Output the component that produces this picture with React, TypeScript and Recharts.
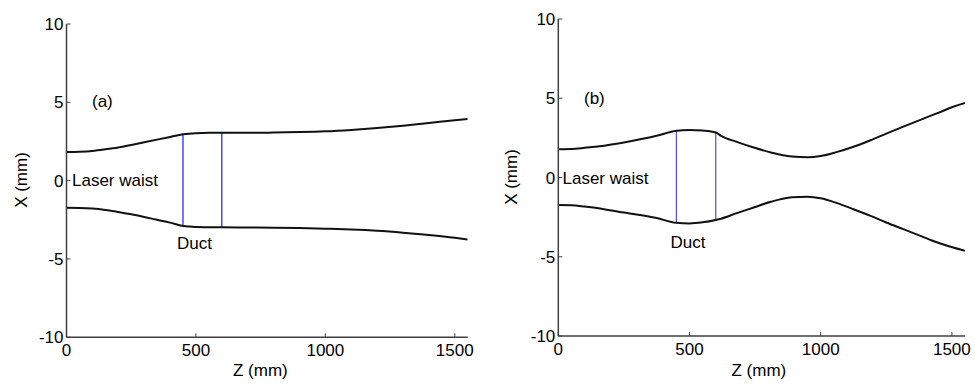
import { Line, LineChart, ReferenceLine, XAxis, YAxis } from "recharts";

// beam envelope, panel (a): duct only
const Z_A = [0, 50, 100, 150, 200, 250, 300, 350, 400, 450, 500, 550, 600, 700, 800, 900, 1000, 1100, 1200, 1300, 1400, 1500, 1550];
const UPPER_A = [1.83, 1.85, 1.9, 2.0, 2.12, 2.28, 2.45, 2.62, 2.79, 2.96, 3.03, 3.05, 3.05, 3.05, 3.07, 3.1, 3.15, 3.24, 3.36, 3.51, 3.68, 3.86, 3.94];
const LOWER_A = [-1.73, -1.74, -1.78, -1.87, -2.0, -2.15, -2.32, -2.5, -2.68, -2.9, -2.96, -2.97, -2.98, -2.99, -3.0, -3.03, -3.07, -3.12, -3.2, -3.32, -3.47, -3.65, -3.76];

// beam envelope, panel (b): focusing after the duct
const Z_B = [0, 50, 100, 175, 250, 375, 450, 500, 550, 600, 620, 680, 745, 810, 890, 950, 1000, 1060, 1125, 1190, 1250, 1315, 1380, 1445, 1505, 1550];
const UPPER_B = [1.79, 1.8, 1.87, 2.01, 2.21, 2.63, 2.95, 3.0, 2.96, 2.84, 2.63, 2.25, 1.89, 1.58, 1.32, 1.27, 1.35, 1.6, 1.94, 2.35, 2.77, 3.21, 3.64, 4.06, 4.46, 4.7];
const LOWER_B = [-1.74, -1.75, -1.83, -2.0, -2.21, -2.56, -2.86, -2.9, -2.83, -2.68, -2.6, -2.25, -1.89, -1.53, -1.24, -1.21, -1.31, -1.6, -2.0, -2.42, -2.84, -3.26, -3.68, -4.1, -4.42, -4.62];

const DUCT_Z = [450, 600];
const X_TICKS = [0, 500, 1000, 1500];
const Y_TICKS = [-10, -5, 0, 5, 10];

const FONT = "'Liberation Sans', Arial, sans-serif";
const AXIS = "#404040";
const tickStyle = { fontSize: 17, fill: "#000", fontFamily: FONT };

type PanelProps = {
  z: number[];
  upper: number[];
  lower: number[];
  ductColor: string;
  left: number;
  width: number;
  margin: { top: number; right: number; bottom: number; left: number };
};

function Panel({ z, upper, lower, ductColor, left, width, margin }: PanelProps) {
  const data = z.map((v, i) => ({ z: v, upper: upper[i], lower: lower[i] }));
  return (
    <div style={{ position: "absolute", left, top: 0 }}>
      <LineChart width={width} height={385} data={data} margin={margin}>
        <XAxis
          dataKey="z"
          type="number"
          domain={[0, 1550]}
          ticks={X_TICKS}
          height={30}
          tick={tickStyle}
          tickSize={-4}
          tickMargin={10.6}
          axisLine={{ stroke: AXIS, strokeWidth: 1.5 }}
          tickLine={{ stroke: AXIS, strokeWidth: 1 }}
          allowDataOverflow
        />
        <YAxis
          type="number"
          domain={[-10, 10]}
          ticks={Y_TICKS}
          width={50}
          tick={tickStyle}
          tickSize={-4}
          tickMargin={7}
          axisLine={{ stroke: AXIS, strokeWidth: 1.5 }}
          tickLine={{ stroke: AXIS, strokeWidth: 1 }}
        />
        {DUCT_Z.map((d) => {
          const i = z.indexOf(d);
          return (
            <ReferenceLine
              key={d}
              segment={[
                { x: d, y: upper[i] },
                { x: d, y: lower[i] },
              ]}
              stroke={ductColor}
              strokeWidth={1.2}
            />
          );
        })}
        <Line dataKey="upper" type="monotone" stroke="#111" strokeWidth={2} dot={false} isAnimationActive={false} />
        <Line dataKey="lower" type="monotone" stroke="#111" strokeWidth={2} dot={false} isAnimationActive={false} />
      </LineChart>
    </div>
  );
}

function AxisTitle({ x, y, text, rotate }: { x: number; y: number; text: string; rotate?: boolean }) {
  return (
    <text
      x={x}
      y={y}
      fontSize={17}
      fontFamily={FONT}
      fill="#000"
      textAnchor={rotate ? "middle" : "start"}
      transform={rotate ? `rotate(-90 ${x} ${y})` : undefined}
    >
      {text}
    </text>
  );
}

export default function App() {
  return (
    <div style={{ position: "absolute", left: 0, top: 0, width: 975, height: 385, background: "#fff", fontFamily: FONT }}>
      <Panel
        z={Z_A}
        upper={UPPER_A}
        lower={LOWER_A}
        ductColor="#1a1aff"
        left={0}
        width={480}
        margin={{ top: 24, right: 12.3, bottom: 17.7, left: 16.5 }}
      />
      <Panel
        z={Z_B}
        upper={UPPER_B}
        lower={LOWER_B}
        ductColor="#4a4af2"
        left={490}
        width={485}
        margin={{ top: 19, right: 10, bottom: 19, left: 18.3 }}
      />
      <svg width={975} height={385} style={{ position: "absolute", left: 0, top: 0, pointerEvents: "none" }}>
        <AxisTitle x={92} y={107} text="(a)" />
        <AxisTitle x={72} y={186} text="Laser waist" />
        <AxisTitle x={177} y={249} text="Duct" />
        <AxisTitle x={233} y={376} text="Z (mm)" />
        <AxisTitle x={26.5} y={180} text="X (mm)" rotate />

        <AxisTitle x={584} y={104} text="(b)" />
        <AxisTitle x={562.5} y={183.5} text="Laser waist" />
        <AxisTitle x={670.5} y={247.5} text="Duct" />
        <AxisTitle x={731.5} y={376} text="Z (mm)" />
        <AxisTitle x={517} y={177} text="X (mm)" rotate />
      </svg>
    </div>
  );
}
